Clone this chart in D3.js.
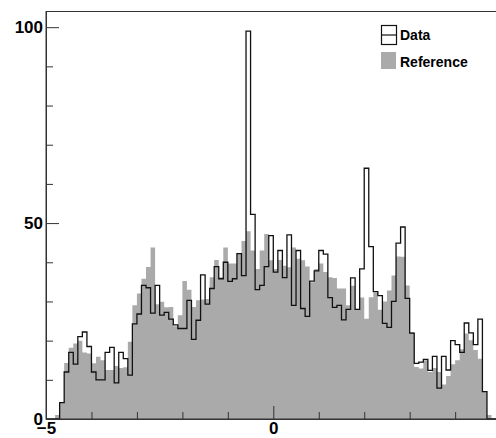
<!DOCTYPE html>
<html>
<head>
<meta charset="utf-8">
<script src="https://cdn.jsdelivr.net/npm/d3@7"></script>
<style>
  body { margin: 0; background: #fff; }
  svg { display: block; font-family: "Liberation Sans", Arial, sans-serif; font-weight: bold; }
</style>
</head>
<body>
<div id="chart"></div>
<script>
// 100 bins from -5 to 5
var xMin = -5, xMax = 5, nBins = 100;

var dataCounts = [
  0, 0, 0, 4.2, 12, 17, 14, 21, 22.2, 18.5,
  12, 10, 10, 17, 18.3, 9.2, 17, 15.4, 11.2, 24.3,
  26.8, 34.1, 33.5, 27, 34.1, 26.5, 27.2, 25.5, 24, 23.1,
  23.1, 30.3, 20.3, 25.2, 36.8, 29.3, 33.3, 38.9, 35.8, 40,
  35.1, 35.8, 42.2, 36.6, 99, 52.2, 33, 34.1, 38.9, 46.8,
  37.5, 43, 36.1, 47, 29, 43, 28.2, 26.2, 35.2, 37.8,
  43, 42.1, 31, 28.5, 29, 25.3, 28, 36, 28, 38.3,
  64, 44, 32.5, 31.5, 24.4, 23.4, 30, 44.9, 49, 30.8,
  21.9, 14.2, 14.5, 15.2, 12.4, 16, 7.9, 16, 12.5, 20,
  19, 17, 24.5, 22, 19, 25.5, 7, 0, 0, 0
];

var refCounts = [
  0, 0, 1, 4.3, 14.3, 18.2, 19.3, 20, 17, 16.7,
  14.2, 15.9, 15, 12.5, 12.5, 13.5, 13, 13.2, 19.7, 29,
  32, 35.8, 38.8, 43.8, 29.3, 29.9, 28.5, 28.6, 23.7, 26.5,
  35.2, 33, 28.6, 30.3, 30.5, 30.6, 36.2, 40.6, 36.2, 43.8,
  39.7, 39.7, 42.2, 45.4, 47.9, 43, 38.3, 43, 47.2, 40.5,
  38.3, 40.6, 39.1, 38.7, 43.8, 40.9, 40.5, 38.9, 34.9, 38.3,
  39.7, 37.5, 36.2, 36, 33.3, 33.3, 29, 34, 27.9, 31,
  25.6, 31.1, 32.3, 27.9, 30, 32.8, 36.6, 41.5, 41.4, 34.1,
  22.2, 13.3, 12.9, 15, 12, 13, 12, 8.8, 11, 14,
  15, 17.8, 21.8, 20.1, 17.6, 15.4, 7, 1, 0, 0
];

// the frame is cut at the right edge, so the "5" label is not shown
var xTickMajor = [-5, 0];
var xTickMinor = [-4, -3, -2, -1, 1, 2, 3, 4];
var yTickMajor = [0, 50, 100];
var yTickMinor = [10, 20, 30, 40, 60, 70, 80, 90];

var legendNames = ["Data", "Reference"];

var W = 496, H = 438;
var frameColor = "#333";
var grey = "#aaaaaa";

var x = d3.scaleLinear().domain([xMin, xMax]).range([46, 500.6]);
var y = d3.scaleLinear().domain([0, 104]).range([419, 11.5]);

var svg = d3
  .select("#chart")
  .append("svg")
  .attr("width", W)
  .attr("height", H);

// bin low edges + final edge for step curves
var binW = (xMax - xMin) / nBins;
function steps(counts) {
  var pts = counts.map(function (v, i) {
    return [xMin + i * binW, v];
  });
  pts.push([xMax, counts[counts.length - 1]]);
  return pts;
}

// Reference: filled grey histogram
var area = d3
  .area()
  .curve(d3.curveStepAfter)
  .x(function (d) { return x(d[0]); })
  .y0(y(0))
  .y1(function (d) { return y(d[1]); });

svg
  .append("path")
  .datum(steps(refCounts))
  .attr("d", area)
  .attr("fill", grey)
  .attr("stroke", "none");

// Data: outline histogram
var line = d3
  .line()
  .curve(d3.curveStepAfter)
  .x(function (d) { return x(d[0]); })
  .y(function (d) { return y(d[1]); });

svg
  .append("path")
  .datum(steps(dataCounts))
  .attr("d", line)
  .attr("fill", "none")
  .attr("stroke", "#111")
  .attr("stroke-width", 1.3);

// frame
svg
  .append("rect")
  .attr("x", x(xMin))
  .attr("y", y(104))
  .attr("width", x(xMax) - x(xMin))
  .attr("height", y(0) - y(104))
  .attr("fill", "none")
  .attr("stroke", frameColor)
  .attr("stroke-width", 1);

// X axis, ticks pointing into the frame
svg
  .append("g")
  .attr("transform", "translate(0," + y(0) + ")")
  .call(
    d3.axisBottom(x).tickValues(xTickMajor).tickFormat(d3.format("d"))
      .tickSizeInner(-13).tickSizeOuter(0).tickPadding(3)
  );
svg
  .append("g")
  .attr("transform", "translate(0," + y(0) + ")")
  .call(
    d3.axisBottom(x).tickValues(xTickMinor).tickFormat("")
      .tickSizeInner(-7).tickSizeOuter(0)
  );

// Y axis
svg
  .append("g")
  .attr("transform", "translate(" + x(xMin) + ",0)")
  .call(
    d3.axisLeft(y).tickValues(yTickMajor).tickFormat(d3.format("d"))
      .tickSizeInner(-13).tickSizeOuter(0).tickPadding(3)
  );
svg
  .append("g")
  .attr("transform", "translate(" + x(xMin) + ",0)")
  .call(
    d3.axisLeft(y).tickValues(yTickMinor).tickFormat("")
      .tickSizeInner(-7).tickSizeOuter(0)
  );

svg.selectAll(".domain").attr("stroke", frameColor);
svg.selectAll(".tick line").attr("stroke", frameColor);
svg
  .selectAll(".tick text")
  .attr("fill", "#000")
  .style("font-size", "17px")
  .style("font-weight", "bold")
  .style("font-family", "'Liberation Sans', Arial, sans-serif");

// legend
var leg = svg.append("g").attr("transform", "translate(381,25)");
leg
  .append("rect")
  .attr("x", 0.5).attr("y", 0.5)
  .attr("width", 15).attr("height", 19)
  .attr("fill", "#fff")
  .attr("stroke", "#111")
  .attr("stroke-width", 1.2);
leg
  .append("line")
  .attr("x1", 0.5).attr("x2", 15.5)
  .attr("y1", 10).attr("y2", 10)
  .attr("stroke", "#111")
  .attr("stroke-width", 1.2);
leg
  .append("rect")
  .attr("x", 0).attr("y", 27)
  .attr("width", 15).attr("height", 17)
  .attr("fill", grey);

leg
  .selectAll("text")
  .data(legendNames)
  .enter()
  .append("text")
  .attr("x", 19)
  .attr("y", function (d, i) { return 15 + i * 27; })
  .attr("fill", "#000")
  .style("font-size", "14px")
  .text(function (d) { return d; });
</script>
</body>
</html>
